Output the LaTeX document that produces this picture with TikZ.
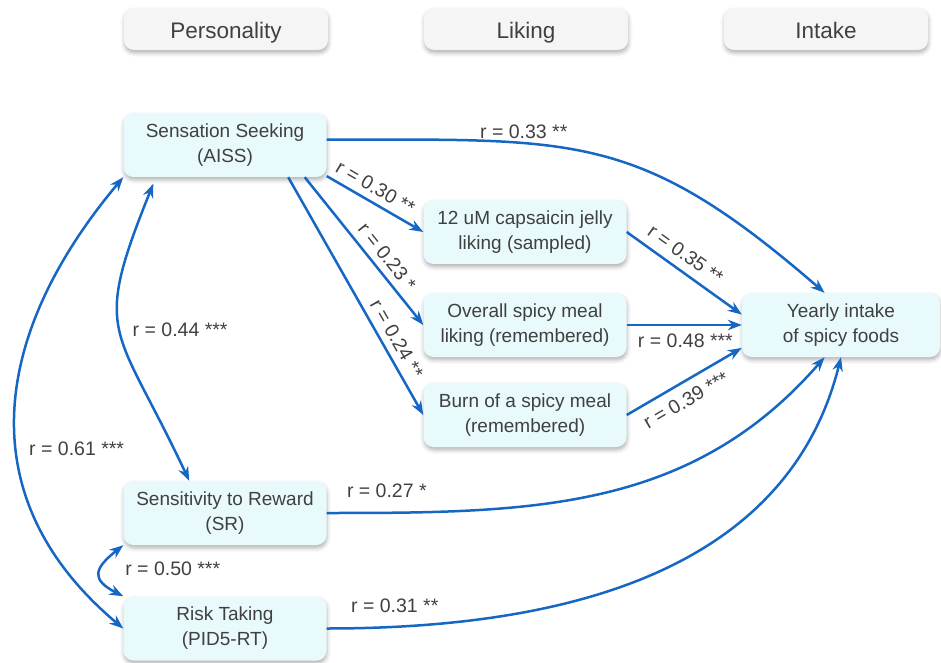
\documentclass[tikz,border=0pt]{standalone}
\usepackage{fontspec}
\setmainfont{Liberation Sans}
\usetikzlibrary{arrows.meta}
\usetikzlibrary{shadows.blur}
\definecolor{arrblue}{RGB}{22,102,196}
\definecolor{boxfill}{RGB}{232,250,252}
\definecolor{headfill}{RGB}{245,245,245}
\definecolor{txt}{RGB}{64,64,64}
\tikzset{
  var/.style={fill=boxfill, rounded corners=10pt, minimum width=203pt, minimum height=64pt,
    align=center, text=txt, font=\fontsize{19}{25}\selectfont,
    blur shadow={shadow xshift=0.5pt, shadow yshift=-3pt, shadow opacity=30, shadow blur radius=4pt}},
  head/.style={var, fill=headfill, minimum width=204pt, minimum height=42pt,
    text height=20pt, text depth=0pt, font=\fontsize{22.5}{27}\selectfont},
  corr/.style={text=txt, font=\fontsize{19.5}{23}\selectfont, inner sep=3pt},
  arr/.style={draw=arrblue, line width=2.5pt}
}

\begin{document}
\begin{tikzpicture}[x=1pt,y=1pt,>={Stealth[length=14pt,width=10.5pt]}]
  \useasboundingbox (0,0) rectangle (941,662);
  % headings
  \node[head] (hpers) at (226,633) {Personality};
  \node[head] (hlike) at (526,633) {Liking};
  \node[head] (hint) at (826,633) {Intake};
  % personality
  \node[var] (ss) at (225,517) {Sensation Seeking\\(AISS)};
  \node[var] (sr) at (225,149) {Sensitivity to Reward\\(SR)};
  \node[var] (rt) at (225,33.5) {Risk Taking\\(PID5-RT)};
  % liking
  \node[var] (jelly) at (525,430) {12 uM capsaicin jelly\\liking (sampled)};
  \node[var] (meal) at (525,337) {Overall spicy meal\\liking (remembered)};
  \node[var] (burn) at (525,247) {Burn of a spicy meal\\(remembered)};
  % intake
  \node[var,minimum width=198pt] (yearly) at (841,337) {Yearly intake\\of spicy foods};
  % paths to liking
  \draw[arr,->] (ss.-17) -- node[corr,sloped,pos=0.43,above=3.5pt]{r = 0.30 **} (jelly.west);
  \draw[arr,->] (ss.-22) -- node[corr,sloped,pos=0.6,above=3.5pt]{r = 0.23 *} (meal.west);
  \draw[arr,->] (ss.-27) -- node[corr,sloped,pos=0.71,above=3.5pt]{r = 0.24 **} (burn.west);
  % paths to intake
  \draw[arr,->] (jelly.east) -- node[corr,sloped,pos=0.43,above=5pt]{r = 0.35 **} (yearly.174);
  \draw[arr,->] (meal.east) -- node[corr,pos=0.51,below=5pt]{r = 0.48 ***} (yearly.west);
  \draw[arr,->] (burn.east) -- node[corr,sloped,pos=0.44,below=6pt]{r = 0.39 ***} (yearly.193);
  \draw[arr,->] (ss.3) .. controls +(250,0) and +(-187,162) .. (yearly.117)
    node[corr,pos=0.33,above]{r = 0.33 **};
  \draw[arr,->] (sr.east) .. controls +(205,0) and +(-134,-154) .. (yearly.243)
    node[corr,pos=0.1,above=11pt]{r = 0.27 *};
  \draw[arr,->] (rt.east) .. controls +(227,0) and +(-55,-220) .. (yearly.south)
    node[corr,pos=0.1,above=10pt]{r = 0.31 **};
  % correlations between traits
  \draw[arr,<->,shorten <=7pt] (ss.205) .. controls +(-65,-161) and +(-74,158) .. (sr.138)
    node[corr,pos=0.5,right=8pt]{r = 0.44 ***};
  \draw[arr,<->] (ss.south west) .. controls +(-131,-156) and +(-156,131) .. (rt.west)
    node[corr,pos=0.58,right=8pt]{r = 0.61 ***};
  \draw[arr,<->] (sr.south west) .. controls +(-29,-23) and +(-33,17) .. (rt.north west)
    node[corr,pos=0.5,right=21pt,yshift=4pt]{r = 0.50 ***};
\end{tikzpicture}
\end{document}
